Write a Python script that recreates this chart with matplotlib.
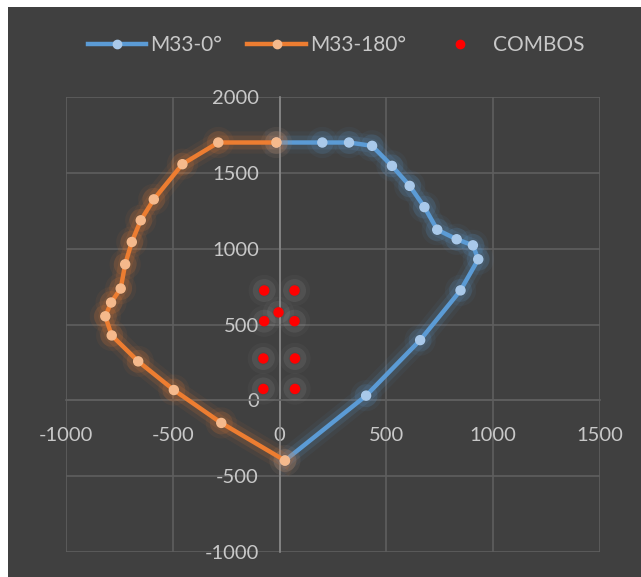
import matplotlib.pyplot as plt
import matplotlib.patheffects as pe
from matplotlib.patches import Rectangle
from matplotlib.lines import Line2D

# values
m33_0_x = [-15, 200, 325, 433, 526, 609, 678, 738, 829, 905, 930, 847, 658, 405, 25]
m33_0_y = [1700, 1700, 1700, 1678, 1546, 1414, 1274, 1125, 1062, 1022, 930, 725, 397, 31, -397]

m33_180_x = [-15, -287, -455, -589, -650, -692, -723, -744, -789, -816, -786, -662, -495, -273, 25]
m33_180_y = [1700, 1700, 1557, 1325, 1187, 1044, 897, 737, 645, 554, 428, 257, 68, -149, -397]

combos_x = [-72, 70, -5, -72, 70, -76, 72, -76, 72]
combos_y = [724, 724, 580, 522, 522, 276, 276, 75, 75]

labels = ['M33-0°', 'M33-180°', 'COMBOS']

bg = '#404040'
txt = '#c8c8c8'
grid = '#5f5f5f'

plt.rcParams['font.family'] = ['Lato', 'DejaVu Sans']
plt.rcParams['axes.unicode_minus'] = False

fig = plt.figure(figsize=(6.41, 5.77), dpi=100, facecolor=bg)
# white strips on the left and top edge
fig.patches.append(Rectangle((0, 0), 8 / 641, 1, transform=fig.transFigure,
                             facecolor='white', edgecolor='none'))
fig.patches.append(Rectangle((0, 1 - 7 / 577), 1, 7 / 577, transform=fig.transFigure,
                             facecolor='white', edgecolor='none'))
ax = fig.add_axes([66 / 641, 25 / 577, 534 / 641, 455 / 577])
ax.set_facecolor(bg)


def glow(color):
    return [pe.Stroke(linewidth=16, foreground=color, alpha=0.06),
            pe.Stroke(linewidth=10, foreground=color, alpha=0.14),
            pe.Normal()]


ax.plot(m33_0_x, m33_0_y, color='#5b9bd5', lw=3.2, marker='o', ms=6.5,
        mfc='#a9c9ea', mec='#a9c9ea', zorder=3, path_effects=glow('#5b9bd5'))
ax.plot(m33_180_x, m33_180_y, color='#ed7d31', lw=3.2, marker='o', ms=6.5,
        mfc='#f5b98c', mec='#f5b98c', zorder=4, path_effects=glow('#ed7d31'))
ax.plot(combos_x, combos_y, ls='none', marker='o', ms=6.5, color='#ff0000',
        zorder=5, path_effects=glow('#a0a0a0'))

ax.set_xlim(-1000, 1500)
ax.set_ylim(-1000, 2000)
ax.set_xticks(range(-1000, 1501, 500))
ax.set_yticks(range(-1000, 2001, 500))
ax.grid(True, color=grid, lw=1.2, zorder=1)
ax.set_axisbelow(True)

ax.spines['left'].set_position(('data', 0))
ax.spines['bottom'].set_position(('data', 0))
ax.spines['left'].set_color('#8a8a8a')
ax.spines['bottom'].set_color(grid)
ax.spines['left'].set_linewidth(1.2)
ax.spines['bottom'].set_linewidth(1.2)
for s in ['top', 'right']:
    ax.spines[s].set_visible(False)
ax.tick_params(length=0, colors=txt, labelsize=14.5)
ax.tick_params(axis='x', pad=19)
ax.tick_params(axis='y', pad=15)

handles = [
    Line2D([], [], color='#5b9bd5', lw=3.2, marker='o', ms=6, mfc='#a9c9ea', mec='#a9c9ea'),
    Line2D([], [], color='#ed7d31', lw=3.2, marker='o', ms=6, mfc='#f5b98c', mec='#f5b98c'),
    Line2D([], [], ls='none', marker='o', ms=6, color='#ff0000'),
]
leg = fig.legend(handles, labels, loc='center', bbox_to_anchor=(0.525, 0.922), ncol=3,
                 frameon=False, fontsize=15, handlelength=2.8, columnspacing=1.2,
                 handletextpad=0.2)
for t in leg.get_texts():
    t.set_color(txt)

fig.savefig('out.png', dpi=100, facecolor=fig.get_facecolor())
